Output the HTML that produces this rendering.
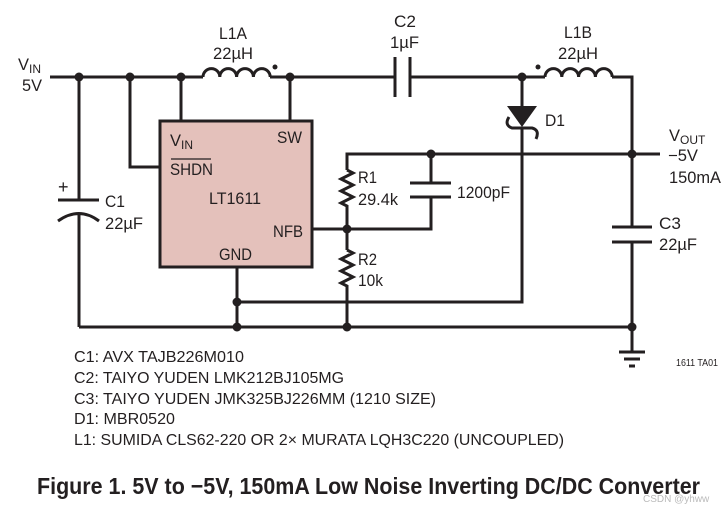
<!DOCTYPE html>
<html><head><meta charset="utf-8"><style>
html,body{margin:0;padding:0;background:#fff;}
svg{display:block;}
text{font-family:"Liberation Sans Narrow","Liberation Sans",sans-serif;fill:#231f20;}
</style></head><body>
<svg width="725" height="512" viewBox="0 0 725 512" xmlns="http://www.w3.org/2000/svg">
<g stroke="#231f20" stroke-width="3" fill="none" stroke-linecap="butt">
<path d="M50 77H203 M270 77H395 M410 77H522 M612 77H632V227 M632 242V352"/>
<path d="M522 77H545"/>
<path d="M203 77 a8.4 8.4 0 0 1 16.8 0 a8.4 8.4 0 0 1 16.8 0 a8.4 8.4 0 0 1 16.8 0 a8.4 8.4 0 0 1 16.8 0"/>
<path d="M545 77 a8.4 8.4 0 0 1 16.8 0 a8.4 8.4 0 0 1 16.8 0 a8.4 8.4 0 0 1 16.8 0 a8.4 8.4 0 0 1 16.8 0"/>
<path d="M395 57V97 M410 57V97"/>
<path d="M181 77V121 M290 77V121 M130 77V167H160"/>
<path d="M79 77V200 M58 200H99 M79 214V327 M58 221 Q79 206 99 221"/>
<path d="M79 327H632"/>
<path d="M237 267V327 M237 302H522V128"/>
<path d="M522 77V106"/>
<path d="M509 117 Q504 125 512 128 H532 Q540 130 536 139"/>
<path d="M347 170V154H660 M431 154V183 M410 183H451 M410 197H451 M431 197V229H312"/>
<path d="M347 170 l6 3 l-12 6 l12 6 l-12 6 l12 6 l-12 6 l6 3 V250"/>
<path d="M347 250 l6 3 l-12 6 l12 6 l-12 6 l12 6 l-12 6 l6 3 V327"/>
<path d="M612 227H652 M612 242H652"/>
<path d="M619 352H645 M624 359H640 M629 366H635"/>
</g>
<rect x="160" y="121" width="152" height="146" fill="#e4c1bb" stroke="#231f20" stroke-width="3"/>
<polygon points="507,106 537,106 522,127" fill="#231f20"/>
<g fill="#231f20">
<circle cx="79" cy="77" r="4.5"/><circle cx="130" cy="77" r="4.5"/><circle cx="181" cy="77" r="4.5"/><circle cx="290" cy="77" r="4.5"/>
<circle cx="522" cy="77" r="4.5"/><circle cx="275" cy="67" r="2.5"/><circle cx="538" cy="67" r="2.5"/>
<circle cx="431" cy="154" r="4.5"/><circle cx="632" cy="154" r="4.5"/><circle cx="347" cy="229" r="4.5"/>
<circle cx="237" cy="302" r="4.5"/><circle cx="237" cy="327" r="4.5"/><circle cx="347" cy="327" r="4.5"/><circle cx="632" cy="327" r="4.5"/>
</g>
<g font-size="16.5">
<text x="18" y="70">V<tspan font-size="12" dy="3">IN</tspan></text>
<text x="22" y="91" textLength="20" lengthAdjust="spacingAndGlyphs">5V</text>
<text x="219" y="39" textLength="28" lengthAdjust="spacingAndGlyphs">L1A</text>
<text x="213" y="59" textLength="40" lengthAdjust="spacingAndGlyphs">22µH</text>
<text x="394" y="27" textLength="22" lengthAdjust="spacingAndGlyphs">C2</text>
<text x="390" y="48" textLength="29" lengthAdjust="spacingAndGlyphs">1µF</text>
<text x="564" y="38" textLength="28" lengthAdjust="spacingAndGlyphs">L1B</text>
<text x="558" y="59" textLength="40" lengthAdjust="spacingAndGlyphs">22µH</text>
<text x="545" y="126" textLength="20" lengthAdjust="spacingAndGlyphs">D1</text>
<text x="669" y="141">V<tspan font-size="12" dy="3">OUT</tspan></text>
<text x="668" y="161" textLength="30" lengthAdjust="spacingAndGlyphs">−5V</text>
<text x="669" y="183" textLength="52" lengthAdjust="spacingAndGlyphs">150mA</text>
<text x="58" y="193" font-size="18">+</text>
<text x="105" y="207" textLength="20" lengthAdjust="spacingAndGlyphs">C1</text>
<text x="105" y="229" textLength="38" lengthAdjust="spacingAndGlyphs">22µF</text>
<text x="170" y="146">V<tspan font-size="12" dy="3">IN</tspan></text>
<text x="277" y="143" textLength="25" lengthAdjust="spacingAndGlyphs">SW</text>
<text x="170" y="175" textLength="43" lengthAdjust="spacingAndGlyphs">SHDN</text>
<path d="M171 159H211" stroke="#231f20" stroke-width="1.2"/>
<text x="209" y="204" textLength="52" lengthAdjust="spacingAndGlyphs">LT1611</text>
<text x="273" y="237" textLength="30" lengthAdjust="spacingAndGlyphs">NFB</text>
<text x="219" y="260" textLength="33" lengthAdjust="spacingAndGlyphs">GND</text>
<text x="358" y="183" textLength="19" lengthAdjust="spacingAndGlyphs">R1</text>
<text x="358" y="205" textLength="40" lengthAdjust="spacingAndGlyphs">29.4k</text>
<text x="457" y="198" textLength="53" lengthAdjust="spacingAndGlyphs">1200pF</text>
<text x="358" y="265" textLength="19" lengthAdjust="spacingAndGlyphs">R2</text>
<text x="358" y="286" textLength="25" lengthAdjust="spacingAndGlyphs">10k</text>
<text x="659" y="229" textLength="22" lengthAdjust="spacingAndGlyphs">C3</text>
<text x="659" y="250" textLength="38" lengthAdjust="spacingAndGlyphs">22µF</text>
<text x="676" y="366" font-size="10" textLength="42" lengthAdjust="spacingAndGlyphs">1611 TA01</text>
<text x="74" y="362" font-size="16" textLength="170" lengthAdjust="spacingAndGlyphs">C1: AVX TAJB226M010</text>
<text x="74" y="383" font-size="16" textLength="270" lengthAdjust="spacingAndGlyphs">C2: TAIYO YUDEN LMK212BJ105MG</text>
<text x="74" y="404" font-size="16" textLength="362" lengthAdjust="spacingAndGlyphs">C3: TAIYO YUDEN JMK325BJ226MM (1210 SIZE)</text>
<text x="74" y="424" font-size="16" textLength="101" lengthAdjust="spacingAndGlyphs">D1: MBR0520</text>
<text x="74" y="445" font-size="16" textLength="490" lengthAdjust="spacingAndGlyphs">L1: SUMIDA CLS62-220 OR 2× MURATA LQH3C220 (UNCOUPLED)</text>
<text x="37" y="494" font-size="23" font-weight="bold" textLength="663" lengthAdjust="spacingAndGlyphs">Figure 1. 5V to −5V, 150mA Low Noise Inverting DC/DC Converter</text>
<text x="643" y="502" font-size="10" style="fill:#bbb">CSDN @yhww</text>
</g>
</svg>
</body></html>
